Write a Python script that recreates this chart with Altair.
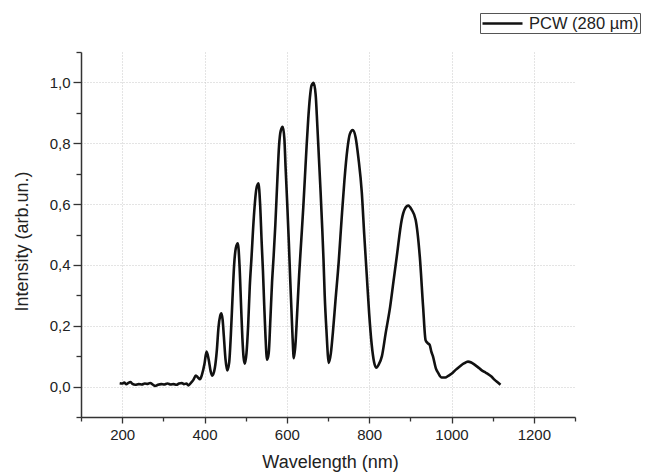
import altair as alt
import pandas as pd

# ---- data ----
wavelength = [
    194, 200, 205, 210, 215, 220, 225, 232, 240, 248, 255, 262, 268, 275, 280,
    287, 295, 302, 310, 318, 325, 332, 338, 345, 350, 356, 361, 367, 373, 379,
    384, 389, 394, 400, 405, 410, 415, 419, 425, 430, 434, 438, 441, 444, 447,
    451, 455, 460, 464, 468, 472, 476, 481, 485, 489, 492, 495, 498, 502, 506,
    510, 514, 520, 526, 531, 535, 539, 542, 545, 548, 552, 556, 560, 564, 568,
    572, 577, 581, 585, 590, 594, 597, 601, 605, 608, 611, 614, 617, 621, 625,
    630, 635, 640, 644, 648, 652, 656, 660, 665, 670, 674, 678, 682, 686, 689,
    692, 696, 702, 707, 712, 718, 726, 733, 740, 747, 753, 760, 767, 774, 782,
    788, 794, 800, 806, 812, 817, 823, 831, 840, 851, 859, 867, 879, 887, 895,
    903, 913, 923, 931, 937, 942, 947, 951, 955, 962, 968, 976, 985, 992, 1000,
    1010, 1020, 1030, 1040, 1048, 1056, 1064, 1072, 1080, 1088, 1097, 1105, 1112, 1119,
]
intensity = [
    0.011, 0.010, 0.013, 0.008, 0.012, 0.015, 0.009, 0.006, 0.008, 0.007, 0.010, 0.009, 0.012, 0.006, 0.002,
    0.006, 0.008, 0.007, 0.010, 0.007, 0.008, 0.006, 0.010, 0.012, 0.008, 0.010, 0.004, 0.012, 0.022, 0.036,
    0.030, 0.024, 0.040, 0.075, 0.115, 0.090, 0.050, 0.036, 0.060, 0.120, 0.195, 0.232, 0.241, 0.220, 0.165,
    0.090, 0.053, 0.080, 0.170, 0.290, 0.400, 0.455, 0.471, 0.400, 0.260, 0.160, 0.095, 0.075, 0.110, 0.200,
    0.330, 0.420, 0.560, 0.650, 0.668, 0.602, 0.470, 0.380, 0.270, 0.170, 0.088, 0.110, 0.220, 0.340, 0.430,
    0.530, 0.680, 0.790, 0.840, 0.854, 0.815, 0.720, 0.600, 0.470, 0.360, 0.260, 0.160, 0.093, 0.140, 0.240,
    0.370, 0.480, 0.590, 0.690, 0.790, 0.880, 0.950, 0.990, 0.999, 0.960, 0.860, 0.750, 0.640, 0.520, 0.420,
    0.300, 0.190, 0.078, 0.110, 0.180, 0.280, 0.410, 0.550, 0.680, 0.780, 0.830, 0.843, 0.820, 0.750, 0.640,
    0.500, 0.370, 0.240, 0.140, 0.080, 0.062, 0.072, 0.100, 0.175, 0.263, 0.345, 0.427, 0.548, 0.585, 0.595,
    0.582, 0.548, 0.427, 0.263, 0.153, 0.143, 0.137, 0.115, 0.099, 0.060, 0.044, 0.030, 0.030, 0.035, 0.042,
    0.055, 0.066, 0.076, 0.082, 0.079, 0.072, 0.064, 0.055, 0.048, 0.042, 0.033, 0.022, 0.014, 0.006,
]
series_name = "PCW (280 µm)"

x_major = [200, 400, 600, 800, 1000, 1200]
x_minor = [100, 300, 500, 700, 900, 1100, 1300]
y_major = [0.0, 0.2, 0.4, 0.6, 0.8, 1.0]
y_minor = [-0.1, 0.1, 0.3, 0.5, 0.7, 0.9, 1.1]

df = pd.DataFrame({"wavelength": wavelength, "intensity": intensity, "series": series_name})

FONT = "Liberation Sans"
TEXT = "#222222"
AXC = "#333333"

xscale = alt.Scale(domain=[100, 1300], nice=False, zero=False)
yscale = alt.Scale(domain=[-0.1, 1.1], nice=False, zero=False)

main = alt.Chart(df).mark_line(strokeWidth=2.6, interpolate="monotone").encode(
    x=alt.X(
        "wavelength:Q", scale=xscale,
        axis=alt.Axis(
            orient="bottom", values=x_major, format="d", title="Wavelength (nm)",
            tickSize=6, tickColor=AXC, tickWidth=1.3, domainColor=AXC, domainWidth=1.5,
            labelFont=FONT, labelFontSize=15, labelColor=TEXT, labelPadding=4,
            titleFont=FONT, titleFontSize=18, titleFontWeight="normal", titleColor=TEXT,
            titleBaseline="alphabetic", titleY=50, titleX=249,
            grid=True, gridColor="#c8c8c8", gridDash=[1, 2], gridWidth=1,
        ),
    ),
    y=alt.Y(
        "intensity:Q", scale=yscale,
        axis=alt.Axis(
            orient="left", values=y_major,
            labelExpr="replace(format(datum.value, '.1f'), '.', ',')",
            title="Intensity (arb.un.)",
            tickSize=8, tickColor=AXC, tickWidth=1.3, domainColor=AXC, domainWidth=1.5,
            labelFont=FONT, labelFontSize=15, labelColor=TEXT, labelPadding=3,
            titleFont=FONT, titleFontSize=18, titleFontWeight="normal", titleColor=TEXT,
            titleBaseline="alphabetic", titleX=-54, titleY=189, titleAngle=270,
            grid=True, gridColor="#c8c8c8", gridDash=[1, 2], gridWidth=1,
        ),
    ),
    color=alt.Color(
        "series:N", scale=alt.Scale(range=["#111111"]),
        legend=alt.Legend(
            title=None, orient="none", legendX=399, legendY=-39,
            strokeColor="#555555", fillColor="white", padding=1,
            symbolType="M-1,0H4", symbolSize=256, symbolStrokeWidth=2.5,
            symbolFillColor="transparent",
            labelFont=FONT, labelFontSize=16.5, labelColor=TEXT, labelOffset=29,
            labelLimit=300,
        ),
    ),
)

minor = alt.Chart(df).mark_line(strokeOpacity=0).encode(
    x=alt.X(
        "wavelength:Q", scale=xscale,
        axis=alt.Axis(orient="bottom", values=x_minor, labels=False, tickSize=4,
                      tickColor=AXC, tickWidth=1.3, domain=False, grid=False, title=None),
    ),
    y=alt.Y(
        "intensity:Q", scale=yscale,
        axis=alt.Axis(orient="left", values=y_minor, labels=False, tickSize=5,
                      tickColor=AXC, tickWidth=1.3, domain=False, grid=False, title=None),
    ),
)

chart = alt.layer(main, minor).resolve_axis(
    x="independent", y="independent"
).properties(
    width=494, height=365,
    padding={"left": 73, "top": 44, "right": 66, "bottom": 57},
    autosize=alt.AutoSizeParams(type="none"),
).configure_view(stroke=None)

chart.save("out.html", embed_options={"renderer": "svg", "actions": False})
